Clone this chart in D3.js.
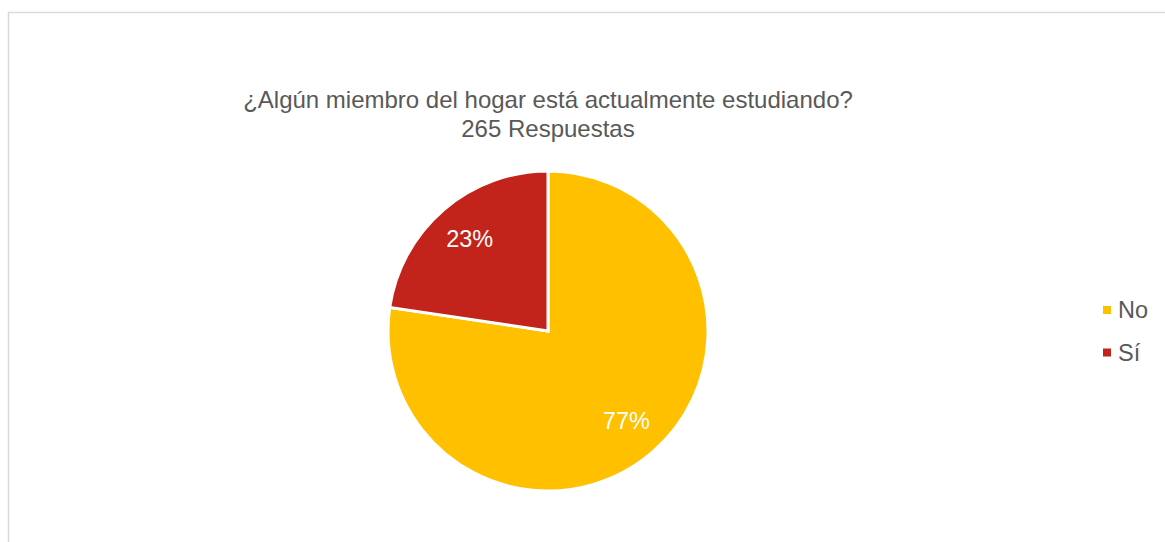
<!DOCTYPE html>
<html>
<head>
<meta charset="utf-8">
<script src="https://cdn.jsdelivr.net/npm/d3@7"></script>
<style>
  body { margin: 0; background: #fff; }
  text { font-family: "Liberation Sans", Arial, sans-serif; }
</style>
</head>
<body>
<div id="chart"></div>
<script>
// data (265 answers)
let categories = ["No", "Sí"];
let counts = [205, 60];
let colors = ["#FFC000", "#C2231A"];
let titleLines = ["¿Algún miembro del hogar está actualmente estudiando?", "265 Respuestas"];

let width = 1165;
let height = 542;
let radius = 160;
let cx = 548;
let cy = 331;

let svg = d3
  .select("#chart")
  .append("svg")
  .attr("width", width)
  .attr("height", height);

// light frame of the chart area (runs off right and bottom)
svg.append("rect")
  .attr("x", 8.5)
  .attr("y", 12.5)
  .attr("width", width)
  .attr("height", height)
  .attr("fill", "#fff")
  .attr("stroke", "#D9D9D9")
  .attr("stroke-width", 1.5);

// title
svg.append("text")
  .attr("x", cx)
  .attr("y", 108)
  .attr("text-anchor", "middle")
  .attr("font-size", "24px")
  .attr("fill", "#595959")
  .selectAll("tspan")
  .data(titleLines)
  .enter()
  .append("tspan")
  .attr("x", cx)
  .attr("dy", (d, i) => (i === 0 ? 0 : 29))
  .text((d) => d);

let color = d3.scaleOrdinal().domain(categories).range(colors);

let data = categories.map((c, i) => ({ name: c, value: counts[i] }));
let total = d3.sum(counts);

let pie = d3.pie().sort(null).value((d) => d.value);
let arc = d3.arc().innerRadius(0).outerRadius(radius);
let labelArc = d3.arc().innerRadius(120).outerRadius(120);

let g = svg.append("g").attr("transform", `translate(${cx},${cy})`);

g.selectAll("path")
  .data(pie(data))
  .enter()
  .append("path")
  .attr("d", arc)
  .attr("fill", (d) => color(d.data.name))
  .attr("stroke", "#fff")
  .attr("stroke-width", 3);

// percent labels
g.selectAll(".pct")
  .data(pie(data))
  .enter()
  .append("text")
  .attr("class", "pct")
  .attr("transform", (d) => `translate(${labelArc.centroid(d)})`)
  .attr("text-anchor", "middle")
  .attr("dy", "0.3em")
  .attr("font-size", "23.5px")
  .attr("fill", "#fff")
  .text((d) => Math.round((d.data.value / total) * 100) + "%");

// legend
let legend = svg.append("g").attr("transform", "translate(1103,310)");

categories.forEach((d, i) => {
  let row = legend.append("g").attr("transform", `translate(0,${i * 42.5})`);
  row.append("rect")
    .attr("x", 0)
    .attr("y", -4)
    .attr("width", 8)
    .attr("height", 8)
    .attr("fill", color(d));
  row.append("text")
    .attr("x", 15)
    .attr("y", 0)
    .attr("dy", "0.35em")
    .attr("font-size", "23.5px")
    .attr("fill", "#595959")
    .text(d);
});
</script>
</body>
</html>
